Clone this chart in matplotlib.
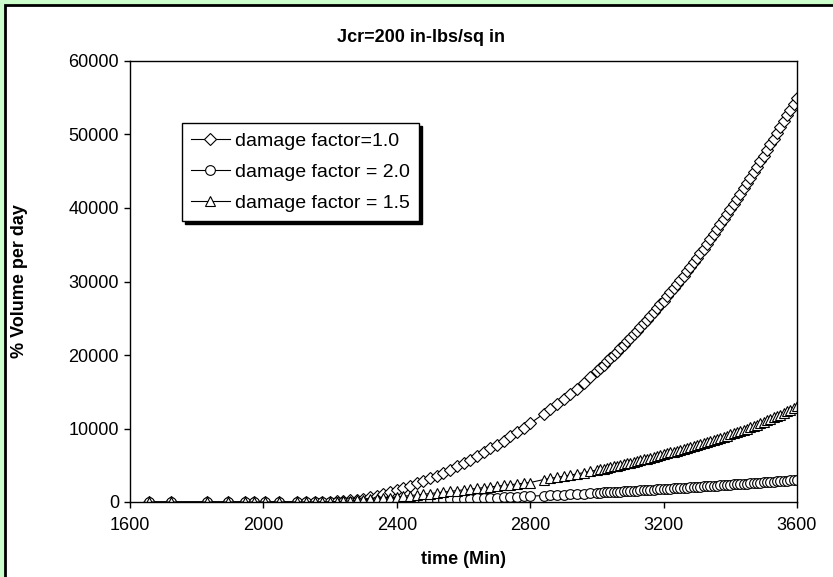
import matplotlib
matplotlib.use("Agg")
import matplotlib.pyplot as plt
from matplotlib.patches import Rectangle

plt.rcParams['font.family'] = ['Liberation Sans', 'DejaVu Sans']

# time (Min)
time_min = [1657, 1723, 1831, 1894, 1945, 1972, 2005, 2047, 2101, 2128, 2155, 2176,
            2200, 2220, 2240, 2260, 2280, 2300, 2320, 2340, 2360, 2380,
            2400, 2420, 2440, 2460, 2480, 2500, 2520, 2540, 2560, 2580,
            2600, 2620, 2640, 2660, 2680, 2700, 2720, 2740, 2760, 2780, 2800,
            2840, 2860, 2880, 2900, 2920, 2940, 2960, 2980, 3000,
            3010, 3020, 3030, 3040, 3050, 3060, 3070, 3080, 3090, 3100,
            3110, 3120, 3130, 3140, 3150, 3160, 3170, 3180, 3190, 3200,
            3210, 3220, 3230, 3240, 3250, 3260, 3270, 3280, 3290, 3300,
            3310, 3320, 3330, 3340, 3350, 3360, 3370, 3380, 3390, 3400,
            3410, 3420, 3430, 3440, 3450, 3460, 3470, 3480, 3490, 3500,
            3510, 3520, 3530, 3540, 3550, 3560, 3570, 3580, 3590, 3600]

# % volume per day, damage factor = 1.0
vol_df10 = [0, 0, 0, 0, 0, 0, 1, 2, 4, 6, 10, 18,
            30, 80, 125, 210, 330, 450, 650, 850, 1080, 1340,
            1600, 1900, 2200, 2520, 2860, 3200, 3600, 4000, 4420, 4860,
            5300, 5780, 6260, 6760, 7280, 7800, 8360, 8920, 9500, 10100, 10700,
            11980, 12640, 13320, 14000, 14720, 15440, 16200, 17000, 17800,
            18240, 18680, 19120, 19560, 20000, 20460, 20920, 21380, 21840, 22300,
            22800, 23300, 23800, 24300, 24800, 25320, 25840, 26360, 26880, 27400,
            27960, 28520, 29080, 29640, 30200, 30800, 31400, 32000, 32600, 33200,
            33840, 34480, 35120, 35760, 36400, 37080, 37760, 38440, 39120, 39800,
            40520, 41240, 41960, 42680, 43400, 44140, 44880, 45620, 46360, 47100,
            47880, 48660, 49440, 50220, 51000, 51800, 52600, 53400, 54200, 55000]

# damage factor = 2.0
vol_df20 = [0, 0, 0, 0, 0, 0, 0, 0, 1, 1, 2, 3,
            5, 9, 14, 22, 35, 48, 65, 82, 100, 120,
            141, 165, 189, 214, 240, 267, 296, 325, 356, 388,
            420, 454, 488, 522, 559, 595, 634, 673, 712, 753, 793,
            878, 921, 966, 1010, 1056, 1103, 1149, 1198, 1246,
            1271, 1296, 1320, 1345, 1370, 1396, 1421, 1447, 1473, 1499,
            1526, 1552, 1579, 1605, 1632, 1659, 1687, 1714, 1742, 1769,
            1797, 1825, 1853, 1881, 1909, 1938, 1967, 1996, 2025, 2054,
            2084, 2114, 2143, 2173, 2203, 2233, 2264, 2294, 2325, 2355,
            2386, 2417, 2449, 2480, 2511, 2543, 2575, 2606, 2638, 2670,
            2703, 2736, 2768, 2801, 2834, 2867, 2900, 2934, 2967, 3000]

# damage factor = 1.5
vol_df15 = [0, 0, 0, 0, 0, 1, 2, 4, 8, 12, 18, 24,
            30, 66, 102, 152, 216, 280, 360, 440, 524, 612,
            700, 788, 876, 966, 1058, 1150, 1250, 1350, 1450, 1550,
            1650, 1750, 1850, 1950, 2050, 2150, 2250, 2350, 2450, 2550, 2650,
            3050, 3220, 3360, 3500, 3660, 3820, 3990, 4170, 4350,
            4450, 4550, 4650, 4750, 4850, 4950, 5050, 5150, 5250, 5350,
            5460, 5570, 5680, 5790, 5900, 6020, 6140, 6260, 6380, 6500,
            6620, 6740, 6860, 6980, 7100, 7230, 7360, 7490, 7620, 7750,
            7880, 8010, 8140, 8270, 8400, 8560, 8720, 8880, 9040, 9200,
            9360, 9520, 9680, 9840, 10000, 10180, 10360, 10540, 10720, 10900,
            11100, 11300, 11500, 11700, 11900, 12120, 12340, 12560, 12780, 13000]

x_ticks = [1600, 2000, 2400, 2800, 3200, 3600]
y_ticks = [0, 10000, 20000, 30000, 40000, 50000, 60000]

W, H = 833, 577
fig = plt.figure(figsize=(W / 100, H / 100), dpi=100, facecolor='#CCFFCC')

# white chart area with black border, behind the axes
fig.patches.append(Rectangle((5 / W, -0.05), 1.1, 1 - 5 / H + 0.05,
                             transform=fig.transFigure, facecolor='white',
                             edgecolor='black', linewidth=2.0, zorder=-10))

ax = fig.add_axes([130 / W, 1 - 502 / H, 667 / W, 441 / H])
ax.set_facecolor('white')

style = dict(color='black', linewidth=0.8, markerfacecolor='white',
             markeredgecolor='black', markeredgewidth=0.8)
ax.plot(time_min, vol_df10, marker='D', markersize=6.3, label='damage factor=1.0', **style)
ax.plot(time_min, vol_df20, marker='o', markersize=7, label='damage factor = 2.0', **style)
ax.plot(time_min, vol_df15, marker='^', markersize=7.5, label='damage factor = 1.5', **style)

ax.set_xlim(1600, 3600)
ax.set_ylim(0, 60000)
ax.set_xticks(x_ticks)
ax.set_yticks(y_ticks)
ax.tick_params(direction='out', length=4, width=1, labelsize=13, color='black')
ax.tick_params(axis='x', pad=7)
ax.tick_params(axis='y', pad=4)
for s in ax.spines.values():
    s.set_linewidth(1.0)

# Excel centres the title on the whole chart area
fig.text(0.505, 1 - 37 / H, 'Jcr=200 in-lbs/sq in', fontsize=13, fontweight='bold',
         ha='center', va='center')
ax.set_xlabel('time (Min)', fontsize=13, fontweight='bold')
ax.set_ylabel('% Volume per day', fontsize=13, fontweight='bold')
ax.xaxis.set_label_coords(0.5, -0.11)
ax.yaxis.set_label_coords(-0.153, 0.5)

leg = ax.legend(loc='upper left', bbox_to_anchor=(0.078, 0.859), borderaxespad=0,
                fontsize=14, frameon=True, fancybox=False, handlelength=2.0,
                handletextpad=0.3, labelspacing=0.7, borderpad=0.45,
                shadow={'color': 'black', 'alpha': 1.0})
leg.get_frame().set_edgecolor('black')
leg.get_frame().set_linewidth(1.0)

fig.savefig('out.png', dpi=100, facecolor=fig.get_facecolor())
